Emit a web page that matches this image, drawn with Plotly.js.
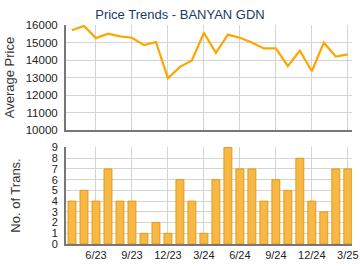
<!DOCTYPE html>
<html>
<head>
<meta charset="utf-8">
<script src="https://cdn.plot.ly/plotly-3.0.1.min.js"></script>
<style>html,body{margin:0;padding:0;background:#fff;}#chart{width:360px;height:270px;}</style>
</head>
<body>
<div id="chart"></div>
<script>
var months = ["4/23","5/23","6/23","7/23","8/23","9/23","10/23","11/23","12/23","1/24","2/24","3/24",
              "4/24","5/24","6/24","7/24","8/24","9/24","10/24","11/24","12/24","1/25","2/25","3/25"];
var avgPrice = [15700,15950,15250,15500,15350,15270,14850,15030,12960,13610,13970,15560,
                14410,15450,15270,15000,14660,14660,13650,14530,13360,14990,14200,14320];
var transactions = [4,5,4,7,4,4,1,2,1,6,4,1,6,9,7,7,4,6,5,8,4,3,7,7];
var tickLabels = ["6/23","9/23","12/23","3/24","6/24","9/24","12/24","3/25"];
var priceTicks = [10000,11000,12000,13000,14000,15000,16000];
var transTicks = [0,1,2,3,4,5,6,7,8,9];

var font = "Liberation Sans, Arial, sans-serif";
var traces = [
  {x: months, y: avgPrice, type: "scatter", mode: "lines", xaxis: "x", yaxis: "y",
   line: {color: "#ffa500", width: 2.2}, hoverinfo: "none"},
  {x: months, y: transactions, type: "bar", xaxis: "x2", yaxis: "y2", width: 0.66,
   marker: {color: "#f7b845", line: {color: "#e39a1c", width: 1}}, hoverinfo: "none"}
];
var xcommon = {type: "category", range: [-0.5, 23.35], tickmode: "array", tickvals: tickLabels,
  showgrid: true, gridcolor: "#d4d4d4", gridwidth: 1, zeroline: false,
  showline: true, linecolor: "#777", linewidth: 2, ticks: "", fixedrange: true};
var layout = {
  width: 360, height: 270,
  margin: {l: 66, r: 8, t: 25, b: 26},
  paper_bgcolor: "#fff", plot_bgcolor: "#fff",
  showlegend: false,
  title: {text: "Price Trends - BANYAN GDN", xref: "container", x: 0.5, xanchor: "center",
          yref: "container", y: 0.963, yanchor: "top",
          font: {family: font, size: 13, color: "#1b3a68"}},
  xaxis: Object.assign({}, xcommon, {anchor: "y", showticklabels: false}),
  xaxis2: Object.assign({}, xcommon, {anchor: "y2", showticklabels: true, ticktext: tickLabels,
          tickfont: {family: font, size: 11, color: "#222"}}),
  yaxis: {domain: [0.5205, 1], range: [10000, 16000], tickmode: "array",
          tickvals: priceTicks, ticktext: priceTicks.map(String),
          showgrid: true, gridcolor: "#d4d4d4", zeroline: false,
          showline: true, linecolor: "#777", linewidth: 2, ticks: "",
          tickfont: {family: font, size: 11.5, color: "#222"}, ticklabelstandoff: 4,
          title: {text: "Average Price", font: {family: font, size: 13, color: "#333"}, standoff: 8}},
  yaxis2: {domain: [0, 0.443], range: [0, 9.05], tickmode: "array",
          tickvals: transTicks, ticktext: transTicks.map(String),
          showgrid: true, gridcolor: "#d4d4d4", zeroline: false,
          showline: true, linecolor: "#777", linewidth: 2, ticks: "",
          tickfont: {family: font, size: 11, color: "#222"}, ticklabelstandoff: 4,
          title: {text: "No. of Trans.", font: {family: font, size: 13, color: "#333"}, standoff: 28}}
};
Plotly.newPlot("chart", traces, layout, {staticPlot: true, displayModeBar: false});
</script>
</body>
</html>
